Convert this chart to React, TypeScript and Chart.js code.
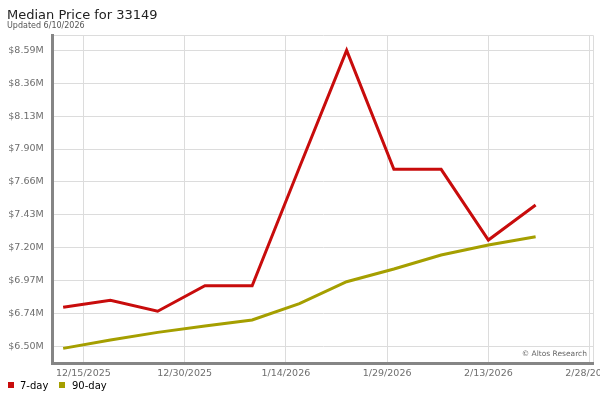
import { useEffect, useRef } from 'react';
import { Chart, registerables } from 'chart.js';

Chart.register(...registerables);

// weekly sample dates
const DATES = [
  '2025-12-12', '2025-12-19', '2025-12-26', '2026-01-02', '2026-01-09', '2026-01-16',
  '2026-01-23', '2026-01-30', '2026-02-06', '2026-02-13', '2026-02-20',
];

// median price, millions of dollars
const SEVEN_DAY = [6.78, 6.83, 6.752, 6.932, 6.932, 7.766, 8.592, 7.753, 7.753, 7.254, 7.501];
const NINETY_DAY = [6.49, 6.549, 6.603, 6.648, 6.69, 6.805, 6.96, 7.05, 7.149, 7.219, 7.278];

const Y_TICKS = [6.504, 6.736, 6.968, 7.2, 7.432, 7.664, 7.896, 8.128, 8.36, 8.592];
const X_TICK_LABELS = ['12/15/2025', '12/30/2025', '1/14/2026', '1/29/2026', '2/13/2026', '2/28/2026'];

const RED = '#c80c0c';
const OLIVE = '#a59f00';
const FONT = '"DejaVu Sans", Verdana, sans-serif';

const DAY = 86400000;
const isoDay = (s: string) => Date.parse(s + 'T00:00:00Z') / DAY;
const usDay = (s: string) => {
  const [m, d, y] = s.split('/').map(Number);
  return Date.UTC(y, m - 1, d) / DAY;
};

const X_TICK_DAYS = X_TICK_LABELS.map(usDay);
const X_MIN = X_TICK_DAYS[0] - 4.55;
const X_MAX = X_TICK_DAYS[X_TICK_DAYS.length - 1] + 0.5;
const Y_MIN = 6.382;
const Y_MAX = 8.698;

export default function App() {
  const canvasRef = useRef<HTMLCanvasElement>(null);
  const chartRef = useRef<Chart | null>(null);

  useEffect(() => {
    if (!canvasRef.current) return;
    if (chartRef.current) chartRef.current.destroy();

    const xs = DATES.map(isoDay);

    chartRef.current = new Chart(canvasRef.current, {
      type: 'line',
      data: {
        datasets: [
          {
            label: '7-day',
            data: xs.map((x, i) => ({ x, y: SEVEN_DAY[i] })),
            borderColor: RED,
            backgroundColor: RED,
            borderWidth: 3,
            pointRadius: 0,
            tension: 0,
          },
          {
            label: '90-day',
            data: xs.map((x, i) => ({ x, y: NINETY_DAY[i] })),
            borderColor: OLIVE,
            backgroundColor: OLIVE,
            borderWidth: 3,
            pointRadius: 0,
            tension: 0,
          },
        ],
      },
      options: {
        responsive: false,
        animation: false,
        layout: { padding: { left: 0, top: 35.3, right: 7, bottom: 0 } },
        plugins: {
          legend: { display: false },
          title: { display: false },
          tooltip: { enabled: false },
        },
        scales: {
          x: {
            type: 'linear',
            min: X_MIN,
            max: X_MAX,
            afterBuildTicks: (scale: any) => {
              scale.ticks = [...X_TICK_DAYS, X_MAX].map(v => ({ value: v }));
            },
            afterFit: (scale: any) => {
              scale.height = 36.3;
              scale.paddingLeft = 0;
              scale.paddingRight = 0;
            },
            grid: { color: '#dcdcdc', lineWidth: 1, drawTicks: false },
            border: { display: true, color: '#858585', width: 3 },
            ticks: {
              autoSkip: false,
              maxRotation: 0,
              minRotation: 0,
              padding: 4,
              color: '#6e6e6e',
              font: { family: FONT, size: 9.5 },
              callback: (_v: any, i: number) => (i < X_TICK_LABELS.length ? X_TICK_LABELS[i] : ''),
            },
          },
          y: {
            type: 'linear',
            min: Y_MIN,
            max: Y_MAX,
            afterBuildTicks: (scale: any) => {
              scale.ticks = [...Y_TICKS, Y_MAX].map(v => ({ value: v }));
            },
            afterFit: (scale: any) => {
              scale.width = 52.7;
              scale.paddingTop = 0;
              scale.paddingBottom = 0;
            },
            grid: { color: '#dcdcdc', lineWidth: 1, drawTicks: false },
            border: { display: true, color: '#858585', width: 3 },
            ticks: {
              autoSkip: false,
              padding: 9,
              color: '#6e6e6e',
              font: { family: FONT, size: 9.5 },
              callback: (_v: any, i: number) => (i < Y_TICKS.length ? '$' + Y_TICKS[i].toFixed(2) + 'M' : ''),
            },
          },
        },
      },
    });

    return () => {
      if (chartRef.current) { chartRef.current.destroy(); chartRef.current = null; }
    };
  }, []);

  const abs = { position: 'absolute' as const, whiteSpace: 'nowrap' as const, fontFamily: FONT };

  return (
    <div style={{ position: 'absolute', left: 0, top: 0, width: 600, height: 400, background: '#fff', overflow: 'hidden' }}>
      <canvas ref={canvasRef} width={600} height={400} style={{ position: 'absolute', left: 0, top: 0 }} />
      <div style={{ ...abs, left: 7, top: 8, fontSize: 13, lineHeight: '13px', color: '#222' }}>
        Median Price for 33149
      </div>
      <div style={{ ...abs, left: 7, top: 22, fontSize: 8, lineHeight: '8px', color: '#555' }}>
        Updated 6/10/2026
      </div>
      <div style={{ ...abs, left: 487, width: 100, textAlign: 'right', top: 350, fontSize: 7.5, lineHeight: '8px', color: '#666' }}>
        © Altos Research
      </div>
      <div style={{ position: 'absolute', left: 8, top: 382, width: 6, height: 6, background: RED }} />
      <div style={{ ...abs, left: 20, top: 380.5, fontSize: 10, lineHeight: '10px', color: '#000' }}>7-day</div>
      <div style={{ position: 'absolute', left: 59, top: 382, width: 6, height: 6, background: OLIVE }} />
      <div style={{ ...abs, left: 72, top: 380.5, fontSize: 10, lineHeight: '10px', color: '#000' }}>90-day</div>
    </div>
  );
}
